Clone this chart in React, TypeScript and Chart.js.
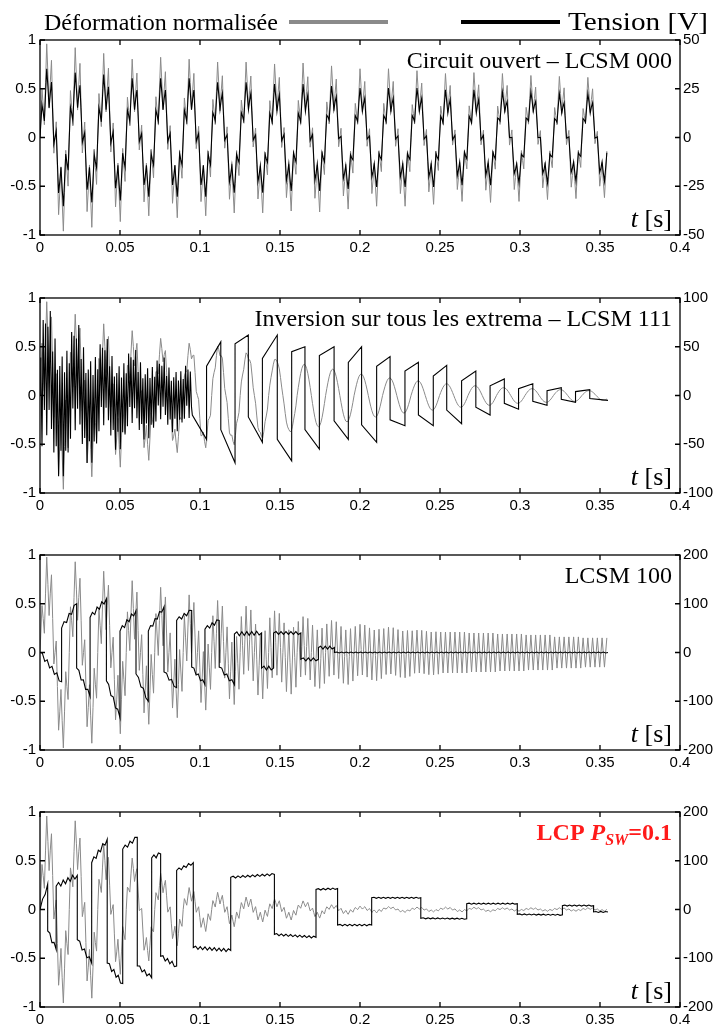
import React, { useEffect, useRef } from "react";
import { Chart, registerables } from "chart.js";

Chart.register(...registerables);

// ---------------- axes ----------------
const X_TICKS = [0, 0.05, 0.1, 0.15, 0.2, 0.25, 0.3, 0.35, 0.4];
const X_TICK_LABELS = ["0", "0.05", "0.1", "0.15", "0.2", "0.25", "0.3", "0.35", "0.4"];
const STRAIN_TICKS = [-1, -0.5, 0, 0.5, 1];
const STRAIN_TICK_LABELS = ["-1", "-0.5", "0", "0.5", "1"];
const TENSION_TICKS_P1 = [-50, -25, 0, 25, 50];
const TENSION_TICKS_P2 = [-100, -50, 0, 50, 100];
const TENSION_TICKS_P34 = [-200, -100, 0, 100, 200];

// ---------------- time base ----------------
const PERIOD = 0.0178; // main vibration period (peak to peak spacing)
const START = 0.0005;
const T_END = 0.355;
// one main cycle sampled 24 times, and the fast (second-mode) ripple sampled on the same grid
const CYCLE_SHAPE_24 = [0, 0.26, 0.5, 0.71, 0.87, 0.97, 1, 0.97, 0.87, 0.71, 0.5, 0.26, 0, -0.26, -0.5, -0.71, -0.87, -0.97, -1, -0.97, -0.87, -0.71, -0.5, -0.26];
const RIPPLE_24 = [0, 1, 0, -1, 0, 1, 0, -1, 0, 1, 0, -1, 0, 1, 0, -1, 0, 1, 0, -1, 0, 1, 0, -1];
const DENSE_PATTERN_24 = [0.6, -0.9, 1, -0.5, 0.8, -1, 0.7, -0.6, 1, -0.8, 0.5, -1, 0.9, -0.7, 0.6, -1, 0.8, -0.5, 1, -0.9, 0.7, -0.6, 0.9, -0.8];

// ---------------- panel 1 : Circuit ouvert ----------------
const P1_STRAIN_MAIN = [0.65, 0.62, 0.58, 0.55, 0.57, 0.56, 0.54, 0.55, 0.53, 0.54, 0.52, 0.5, 0.5, 0.49, 0.47, 0.48, 0.47, 0.46, 0.45, 0.45];
const P1_STRAIN_RIPPLE = [0.33, 0.32, 0.3, 0.27, 0.27, 0.26, 0.25, 0.24, 0.24, 0.24, 0.23, 0.22, 0.22, 0.21, 0.2, 0.2, 0.2, 0.19, 0.19, 0.18];
const P1_TENSION_MAIN = [26, 25, 24, 23, 23, 23, 22, 22, 21, 21, 21, 20, 20, 20, 19, 19, 19, 19, 18, 18];
const P1_TENSION_RIPPLE = [10, 9, 9, 8, 8, 8, 7, 7, 7, 7, 6, 6, 6, 6, 6, 6, 5, 5, 5, 5];

// ---------------- panel 2 : LCSM 111 ----------------
const P2_STRAIN_MAIN = [0.6, 0.55, 0.5, 0.5, 0.48, 0.47, 0.47, 0.42, 0.37, 0.32, 0.27, 0.22, 0.18, 0.15, 0.12, 0.1, 0.08, 0.07, 0.06, 0.05];
const P2_STRAIN_RIPPLE = [0.38, 0.3, 0.25, 0.18, 0.12, 0.08, 0.05, 0.03, 0.01, 0, 0, 0, 0, 0, 0, 0, 0, 0, 0, 0];
const P2_TENSION_DENSE_AMP = [65, 55, 45, 38, 32, 28];
const P2_TENSION_DENSE_MAIN = [25, 20, 15, 10, 8, 5];
const P2_SWITCH_T = [0.0952, 0.1041, 0.113, 0.1219, 0.1302, 0.139, 0.1483, 0.1573, 0.1656, 0.1746, 0.1838, 0.1927, 0.201, 0.2104, 0.2188, 0.2281, 0.2365, 0.2458, 0.2542, 0.2635, 0.2724, 0.2813, 0.2902, 0.2991, 0.308, 0.3169, 0.3258, 0.3347, 0.3436];
const P2_SEG_START = [-20, 30, -35, 53, -22, 38, -45, 45, -35, 41, -26, 34, -30, 30, -25, 25, -20, 20, -15, 15, -12, 10, -8, 7, -6, 5, -4, 4, -3];
const P2_SEG_END = [-45, 55, -69, 62, -48, 62, -67, 50, -55, 50, -45, 50, -48, 40, -31, 34, -31, 31, -29, 25, -20, 17, -14, 12, -10, 8, -7, 6, -5];

// ---------------- panel 3 : LCSM 100 ----------------
const P3_STRAIN_MAIN = [0.7, 0.65, 0.55, 0.45, 0.38, 0.3, 0.22, 0.15, 0.1, 0.07, 0.05, 0.03, 0.02, 0.01, 0, 0, 0, 0, 0, 0];
const P3_STRAIN_RIPPLE = [0.3, 0.3, 0.3, 0.3, 0.3, 0.3, 0.32, 0.33, 0.33, 0.3, 0.28, 0.26, 0.24, 0.22, 0.21, 0.2, 0.19, 0.18, 0.16, 0.15];
const P3_SWITCH_T = [0, 0.0135, 0.0229, 0.0313, 0.0415, 0.05, 0.06, 0.0677, 0.0775, 0.0854, 0.0948, 0.1031, 0.112, 0.1215, 0.1385, 0.146, 0.163, 0.174, 0.184];
const P3_SEG_START = [0, 50, -32, 72, -58, 44, -44, 44, -40, 66, -30, 48, -30, 38, -32, 40, -14, 10, 0];
const P3_SEG_END = [-60, 100, -90, 110, -134, 86, -100, 94, -72, 86, -66, 66, -66, 40, -32, 40, -14, 10, 0];
const P3_SEG_RIPPLE = [5, 5, 5, 5, 5, 5, 4, 4, 4, 4, 4, 4, 4, 4, 4, 3, 3, 3, 1];

// ---------------- panel 4 : LCP Psw=0.1 ----------------
const P4_STRAIN_MAIN = [0.7, 0.68, 0.5, 0.42, 0.28, 0.16, 0.12, 0.08, 0.07, 0.06, 0.03, 0.02, 0.02, 0.015, 0.015, 0.015, 0.01, 0.01, 0.01, 0.01];
const P4_STRAIN_RIPPLE = [0.28, 0.25, 0.18, 0.12, 0.1, 0.07, 0.06, 0.05, 0.04, 0.03, 0.02, 0.015, 0.01, 0.01, 0.01, 0.008, 0.008, 0.008, 0.008, 0.008];
const P4_SWITCH_T = [0, 0.0048, 0.0101, 0.0233, 0.0323, 0.042, 0.0517, 0.0608, 0.0698, 0.0754, 0.0854, 0.0958, 0.1192, 0.1465, 0.1725, 0.186, 0.2073, 0.238, 0.2667, 0.2983, 0.3265, 0.346];
const P4_SEG_START = [0, -44, 48, -62, 96, -110, 124, -116, 106, -96, 80, -78, 66, -51, 41, -32, 24, -18, 12, -10, 8, -5];
const P4_SEG_END = [52, -82, 70, -110, 144, -152, 148, -140, 114, -116, 96, -84, 72, -57, 43, -32, 24, -19, 12, -11, 8, -5];
const P4_SEG_RIPPLE = [4, 5, 5, 5, 5, 5, 4, 4, 4, 4, 3, 3, 2, 2, 1.5, 1.5, 1, 1, 1, 1, 1, 1];

// ---------------- layout ----------------
const PANEL_TOPS = [40, 298, 555, 812];
const PANEL_H = 195;
const AXIS_LEFT_W = 40;
const AXIS_RIGHT_W = 33;
const X_AXIS_H = 34;
const TICK = 5;
const GRAY = "#8a8a8a";
const FONT_SANS = '"Liberation Sans", Arial, sans-serif';
const FONT_SERIF = '"Liberation Serif", "Times New Roman", serif';

type Pt = { x: number; y: number };

function buildModal(main: number[], ripple: number[]): Pt[] {
  const pts: Pt[] = [{ x: 0, y: 0 }];
  const dt = PERIOD / 24;
  for (let c = 0; c < main.length; c++) {
    for (let k = 0; k < 24; k++) {
      const t = START + (c * 24 + k) * dt;
      if (t > T_END) return pts;
      pts.push({ x: t, y: main[c] * CYCLE_SHAPE_24[k] + ripple[c] * RIPPLE_24[k] });
    }
  }
  return pts;
}

function buildDense(amp: number[], main: number[], tStop: number): Pt[] {
  const pts: Pt[] = [{ x: 0, y: 0 }];
  const dt = PERIOD / 24;
  for (let c = 0; c < amp.length; c++) {
    for (let k = 0; k < 24; k++) {
      const t = START + (c * 24 + k) * dt;
      if (t >= tStop) return pts;
      pts.push({ x: t, y: amp[c] * DENSE_PATTERN_24[k] + main[c] * CYCLE_SHAPE_24[k] });
    }
  }
  return pts;
}

function buildSteps(times: number[], starts: number[], ends: number[], ripple: number[] | null): Pt[] {
  const pts: Pt[] = [];
  const rdt = PERIOD / 12;
  for (let i = 0; i < times.length; i++) {
    const t0 = times[i];
    const t1 = i + 1 < times.length ? times[i + 1] : T_END;
    const r = ripple ? ripple[i] : 0;
    const n = r > 0 ? Math.max(1, Math.round((t1 - t0) / rdt)) : 1;
    for (let s = 0; s <= n; s++) {
      const f = s / n;
      const wob = s > 0 && s < n ? (s % 2 ? r : -r) : 0;
      pts.push({ x: t0 + (t1 - t0) * f, y: starts[i] + (ends[i] - starts[i]) * f + wob });
    }
  }
  return pts;
}

type PanelCfg = {
  top: number;
  padTop: number;
  vTicks: number[];
  strain: Pt[];
  tension: Pt[];
  title: (ctx: CanvasRenderingContext2D, right: number, baseline: number) => void;
  legend?: boolean;
};

function drawPlainTitle(text: string) {
  return (ctx: CanvasRenderingContext2D, right: number, baseline: number) => {
    ctx.font = `24px ${FONT_SERIF}`;
    ctx.fillStyle = "#000";
    ctx.textAlign = "right";
    ctx.textBaseline = "alphabetic";
    ctx.fillText(text, right, baseline);
  };
}

function drawLcpTitle(ctx: CanvasRenderingContext2D, right: number, baseline: number) {
  const parts = [
    { t: "LCP ", f: `bold 24px ${FONT_SERIF}`, dy: 0 },
    { t: "P", f: `italic bold 24px ${FONT_SERIF}`, dy: 0 },
    { t: "SW", f: `italic bold 16px ${FONT_SERIF}`, dy: 5 },
    { t: "=0.1", f: `bold 24px ${FONT_SERIF}`, dy: 0 },
  ];
  ctx.fillStyle = "#ff1a1a";
  ctx.textAlign = "left";
  let w = 0;
  for (const p of parts) {
    ctx.font = p.f;
    w += ctx.measureText(p.t).width;
  }
  let x = right - w;
  for (const p of parts) {
    ctx.font = p.f;
    ctx.fillText(p.t, x, baseline + p.dy);
    x += ctx.measureText(p.t).width;
  }
}

// draws text with its left edge at x, stretched horizontally to a given width
function fitText(ctx: CanvasRenderingContext2D, text: string, x: number, baseline: number, width: number) {
  const w = ctx.measureText(text).width;
  ctx.save();
  ctx.translate(x, baseline);
  ctx.scale(width / w, 1);
  ctx.textAlign = "left";
  ctx.fillText(text, 0, 0);
  ctx.restore();
}

function makeFramePlugin(cfg: PanelCfg) {
  return {
    id: "frame",
    afterDraw(chart: any) {
      const { ctx, chartArea: a, scales } = chart;
      ctx.save();
      ctx.strokeStyle = "#000";
      ctx.lineWidth = 1.3;
      ctx.strokeRect(a.left, a.top, a.right - a.left, a.bottom - a.top);
      ctx.beginPath();
      for (const v of X_TICKS) {
        const x = scales.x.getPixelForValue(v);
        ctx.moveTo(x, a.bottom);
        ctx.lineTo(x, a.bottom - TICK);
        ctx.moveTo(x, a.top);
        ctx.lineTo(x, a.top + TICK);
      }
      for (const v of STRAIN_TICKS) {
        const y = scales.y.getPixelForValue(v);
        ctx.moveTo(a.left, y);
        ctx.lineTo(a.left + TICK, y);
      }
      for (const v of cfg.vTicks) {
        const y = scales.y2.getPixelForValue(v);
        ctx.moveTo(a.right, y);
        ctx.lineTo(a.right - TICK, y);
      }
      ctx.stroke();

      cfg.title(ctx, a.right - 8, a.top + 28);

      // t [s]
      ctx.fillStyle = "#000";
      ctx.textAlign = "left";
      ctx.font = `26px ${FONT_SERIF}`;
      const wS = ctx.measureText(" [s]").width;
      ctx.font = `italic 26px ${FONT_SERIF}`;
      const wT = ctx.measureText("t").width;
      const xr = a.right - 8;
      const by = a.bottom - 8;
      ctx.fillText("t", xr - wS - wT, by);
      ctx.font = `26px ${FONT_SERIF}`;
      ctx.fillText(" [s]", xr - wS, by);

      if (cfg.legend) {
        ctx.font = `24px ${FONT_SERIF}`;
        ctx.textAlign = "left";
        ctx.fillText("Déformation normalisée", 44, 30);
        ctx.fillStyle = GRAY;
        ctx.fillRect(289, 20, 99, 4);
        ctx.fillStyle = "#000";
        ctx.fillRect(461, 20, 99, 4);
        ctx.font = `25px ${FONT_SERIF}`;
        fitText(ctx, "Tension [V]", 568, 30, 140);
      }
      ctx.restore();
    },
  };
}

function Panel({ cfg }: { cfg: PanelCfg }) {
  const ref = useRef<HTMLCanvasElement>(null);
  const h = cfg.padTop + PANEL_H + X_AXIS_H;
  useEffect(() => {
    const vmin = cfg.vTicks[0];
    const vmax = cfg.vTicks[cfg.vTicks.length - 1];
    const tickFont = { family: FONT_SANS, size: 15 };
    const chart = new Chart(ref.current as HTMLCanvasElement, {
      type: "line",
      data: {
        datasets: [
          {
            data: cfg.tension as any,
            yAxisID: "y2",
            borderColor: "#000",
            borderWidth: 1.1,
            pointRadius: 0,
            tension: 0,
            order: 1,
          },
          {
            data: cfg.strain as any,
            yAxisID: "y",
            borderColor: GRAY,
            borderWidth: 1,
            pointRadius: 0,
            tension: 0,
            order: 2,
          },
        ],
      },
      options: {
        animation: false,
        responsive: false,
        devicePixelRatio: 1,
        parsing: false,
        normalized: true,
        layout: { padding: { top: cfg.padTop, left: 0, right: 0, bottom: 0 } },
        plugins: { legend: { display: false }, tooltip: { enabled: false } },
        scales: {
          x: {
            type: "linear",
            min: 0,
            max: 0.4,
            afterBuildTicks: (s: any) => {
              s.ticks = X_TICKS.map((v) => ({ value: v }));
            },
            afterFit: (s: any) => {
              s.height = X_AXIS_H;
            },
            grid: { display: false, drawTicks: false },
            border: { display: false },
            ticks: {
              autoSkip: false,
              maxRotation: 0,
              padding: 4,
              color: "#000",
              font: tickFont,
              callback: (v: any) => X_TICK_LABELS[X_TICKS.indexOf(Number(v))],
            },
          },
          y: {
            type: "linear",
            position: "left",
            min: -1,
            max: 1,
            afterBuildTicks: (s: any) => {
              s.ticks = STRAIN_TICKS.map((v) => ({ value: v }));
            },
            afterFit: (s: any) => {
              s.width = AXIS_LEFT_W;
            },
            grid: { display: false, drawTicks: false },
            border: { display: false },
            ticks: {
              padding: 4,
              color: "#000",
              font: tickFont,
              callback: (v: any) => STRAIN_TICK_LABELS[STRAIN_TICKS.indexOf(Number(v))],
            },
          },
          y2: {
            type: "linear",
            position: "right",
            min: vmin,
            max: vmax,
            afterBuildTicks: (s: any) => {
              s.ticks = cfg.vTicks.map((v) => ({ value: v }));
            },
            afterFit: (s: any) => {
              s.width = AXIS_RIGHT_W;
            },
            grid: { display: false, drawTicks: false },
            border: { display: false },
            ticks: {
              padding: 3,
              color: "#000",
              font: tickFont,
              callback: (v: any) => String(v),
            },
          },
        },
      } as any,
      plugins: [makeFramePlugin(cfg) as any],
    });
    return () => chart.destroy();
  }, []);
  return (
    <canvas
      ref={ref}
      width={713}
      height={h}
      style={{ position: "absolute", left: 0, top: cfg.top - cfg.padTop, width: 713, height: h }}
    />
  );
}

const PANELS: PanelCfg[] = [
  {
    top: PANEL_TOPS[0],
    padTop: 40,
    vTicks: TENSION_TICKS_P1,
    strain: buildModal(P1_STRAIN_MAIN, P1_STRAIN_RIPPLE),
    tension: buildModal(P1_TENSION_MAIN, P1_TENSION_RIPPLE),
    title: drawPlainTitle("Circuit ouvert – LCSM 000"),
    legend: true,
  },
  {
    top: PANEL_TOPS[1],
    padTop: 20,
    vTicks: TENSION_TICKS_P2,
    strain: buildModal(P2_STRAIN_MAIN, P2_STRAIN_RIPPLE),
    tension: buildDense(P2_TENSION_DENSE_AMP, P2_TENSION_DENSE_MAIN, P2_SWITCH_T[0]).concat(
      buildSteps(P2_SWITCH_T, P2_SEG_START, P2_SEG_END, null)
    ),
    title: drawPlainTitle("Inversion sur tous les extrema – LCSM 111"),
  },
  {
    top: PANEL_TOPS[2],
    padTop: 20,
    vTicks: TENSION_TICKS_P34,
    strain: buildModal(P3_STRAIN_MAIN, P3_STRAIN_RIPPLE),
    tension: buildSteps(P3_SWITCH_T, P3_SEG_START, P3_SEG_END, P3_SEG_RIPPLE),
    title: drawPlainTitle("LCSM 100"),
  },
  {
    top: PANEL_TOPS[3],
    padTop: 20,
    vTicks: TENSION_TICKS_P34,
    strain: buildModal(P4_STRAIN_MAIN, P4_STRAIN_RIPPLE),
    tension: buildSteps(P4_SWITCH_T, P4_SEG_START, P4_SEG_END, P4_SEG_RIPPLE),
    title: drawLcpTitle,
  },
];

export default function App() {
  useEffect(() => {
    document.body.style.margin = "0";
  }, []);
  return (
    <div style={{ position: "absolute", left: 0, top: 0, width: 713, height: 1026, overflow: "hidden", background: "#fff" }}>
      {PANELS.map((p, i) => (
        <Panel key={i} cfg={p} />
      ))}
    </div>
  );
}
